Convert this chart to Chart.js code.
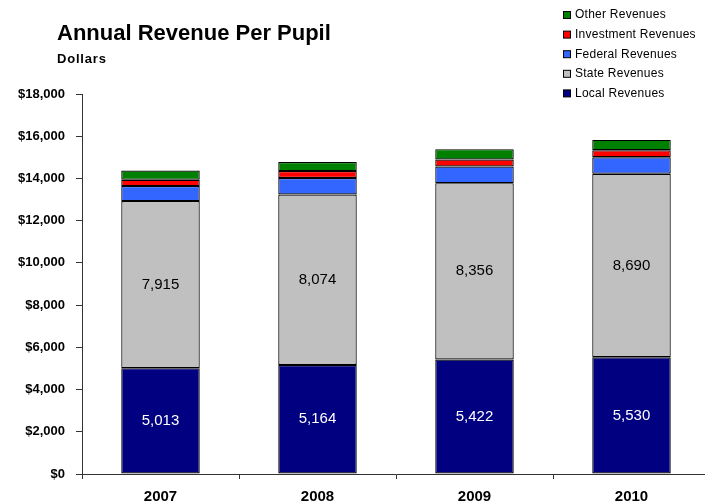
<!DOCTYPE html>
<html>
<head>
<meta charset="utf-8">
<script src="https://cdn.jsdelivr.net/npm/chart.js@4/dist/chart.umd.min.js"></script>
<style>
    html, body { margin: 0; padding: 0; background: #fff; overflow: hidden; }
    #wrap { width: 712px; height: 503px; }
</style>
</head>
<body>
<div id="wrap"><canvas id="revenueChart" width="712" height="503"></canvas></div>
<script>
// Chart data (dollars per pupil)
const years = ['2007', '2008', '2009', '2010'];
const localRevenues = [5013, 5164, 5422, 5530];
const stateRevenues = [7915, 8074, 8356, 8690];
const federalRevenues = [710, 780, 790, 785];
const investmentRevenues = [300, 330, 330, 330];
const otherRevenues = [440, 430, 490, 490];
const yTicks = [0, 2000, 4000, 6000, 8000, 10000, 12000, 14000, 16000, 18000];

const chartTitle = 'Annual Revenue Per Pupil';
const chartSubtitle = 'Dollars';
const FONT = '"Liberation Sans", Arial, sans-serif';

// draws the title block in the top-left corner
const titlePlugin = {
    id: 'titleBlock',
    afterDraw(chart) {
        const ctx = chart.ctx;
        ctx.save();
        ctx.fillStyle = '#000';
        ctx.textAlign = 'left';
        ctx.textBaseline = 'alphabetic';
        ctx.font = 'bold 22px ' + FONT;
        ctx.fillText(chartTitle, 57, 40);
        ctx.font = 'bold 13px ' + FONT;
        ctx.letterSpacing = '0.8px';
        ctx.fillText(chartSubtitle, 57, 63);
        ctx.restore();
    }
};

// legend in the top-right corner, top item = top of the stack
const legendPlugin = {
    id: 'stackLegend',
    afterDraw(chart) {
        const ctx = chart.ctx;
        const sets = chart.data.datasets.slice().reverse();
        ctx.save();
        ctx.font = '12px ' + FONT;
        ctx.letterSpacing = '0.25px';
        ctx.textAlign = 'left';
        ctx.textBaseline = 'middle';
        sets.forEach((ds, i) => {
            const y = 15 + i * 19.6;
            ctx.fillStyle = ds.backgroundColor;
            ctx.fillRect(563.5, y - 3.5, 7, 7);
            ctx.strokeStyle = '#000';
            ctx.lineWidth = 1;
            ctx.strokeRect(563.5, y - 3.5, 7, 7);
            ctx.fillStyle = '#000';
            ctx.fillText(ds.label, 575, y);
        });
        ctx.restore();
    }
};

// value labels inside the local and state segments
const valueLabelPlugin = {
    id: 'valueLabels',
    afterDatasetsDraw(chart) {
        const ctx = chart.ctx;
        ctx.save();
        ctx.font = '15px ' + FONT;
        ctx.textAlign = 'center';
        ctx.textBaseline = 'middle';
        chart.data.datasets.forEach((ds, di) => {
            if (!ds.labelColor) return;
            const meta = chart.getDatasetMeta(di);
            meta.data.forEach((bar, i) => {
                ctx.fillStyle = ds.labelColor;
                ctx.fillText(ds.data[i].toLocaleString('en-US'), bar.x, (bar.y + bar.base) / 2);
            });
        });
        ctx.restore();
    }
};

function makeSet(label, data, color, labelColor) {
    return {
        label: label,
        data: data,
        backgroundColor: color,
        borderColor: '#000',
        borderWidth: 1.2,
        borderSkipped: false,
        barPercentage: 0.5,
        categoryPercentage: 1.0,
        labelColor: labelColor || null
    };
}

const ctx = document.getElementById('revenueChart').getContext('2d');
new Chart(ctx, {
    type: 'bar',
    data: {
        labels: years,
        datasets: [
            makeSet('Local Revenues', localRevenues, '#000080', '#ffffff'),
            makeSet('State Revenues', stateRevenues, '#c0c0c0', '#000000'),
            makeSet('Federal Revenues', federalRevenues, '#3366ff'),
            makeSet('Investment Revenues', investmentRevenues, '#ff0000'),
            makeSet('Other Revenues', otherRevenues, '#008000')
        ]
    },
    options: {
        responsive: false,
        animation: false,
        devicePixelRatio: 1,
        layout: { padding: { top: 94, right: 2, bottom: 0, left: 0 } },
        plugins: {
            legend: { display: false },
            tooltip: { enabled: false }
        },
        scales: {
            x: {
                stacked: true,
                offset: true,
                grid: { offset: true, drawOnChartArea: false, drawTicks: true, tickLength: 5, color: '#333' },
                border: { display: true, color: '#333', width: 1 },
                ticks: { color: '#000', font: { family: FONT, size: 15, weight: 'bold' }, padding: 9, maxRotation: 0 },
                afterFit(scale) { scale.height = 29; }
            },
            y: {
                stacked: true,
                min: 0,
                max: 18000,
                afterBuildTicks(scale) { scale.ticks = yTicks.map(v => ({ value: v })); },
                grid: { drawOnChartArea: false, drawTicks: true, tickLength: 6, color: '#333' },
                border: { display: true, color: '#333', width: 1 },
                ticks: {
                    color: '#000',
                    font: { family: FONT, size: 13, weight: 'bold' },
                    padding: 11,
                    callback: v => '$' + Number(v).toLocaleString('en-US')
                },
                afterFit(scale) { scale.width = 82; }
            }
        }
    },
    plugins: [titlePlugin, legendPlugin, valueLabelPlugin]
});
</script>
</body>
</html>
